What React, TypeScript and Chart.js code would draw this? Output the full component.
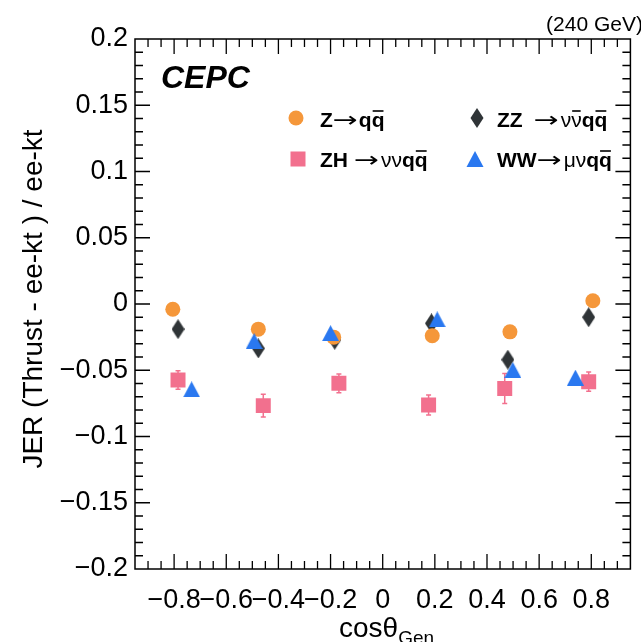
import React, { useEffect, useRef } from "react";
import { Chart, registerables } from "chart.js";
Chart.register(...registerables);

// ---- data ----
const xTickValues = [-0.8, -0.6, -0.4, -0.2, 0, 0.2, 0.4, 0.6, 0.8];
const yTickValues = [0.2, 0.15, 0.1, 0.05, 0, -0.05, -0.1, -0.15, -0.2];

const zqqX = [-0.805, -0.477, -0.188, 0.19, 0.488, 0.806];
const zqqY = [-0.004, -0.019, -0.025, -0.024, -0.021, 0.0025];

const zzX = [-0.785, -0.477, -0.184, 0.187, 0.48, 0.79];
const zzY = [-0.019, -0.0335, -0.027, -0.0146, -0.042, -0.01];

const zhX = [-0.785, -0.458, -0.168, 0.176, 0.468, 0.79];
const zhY = [-0.0574, -0.0767, -0.0599, -0.0762, -0.0637, -0.0586];
const zhErr = [0.007, 0.0085, 0.007, 0.0075, 0.0113, 0.0072];

const wwX = [-0.733, -0.493, -0.2, 0.209, 0.499, 0.739];
const wwY = [-0.0644, -0.028, -0.022, -0.0116, -0.0498, -0.0556];

const ORANGE = "#f5973a";
const DARK = "#2f3437";
const PINK = "#f2708e";
const BLUE = "#2a78f0";
const FONT = "'Liberation Sans', Arial, Helvetica, sans-serif";
const SYMFONT = "'DejaVu Sans', sans-serif";

function makeDiamond(w: number, h: number, color: string) {
  const c = document.createElement("canvas");
  c.width = w;
  c.height = h;
  const g = c.getContext("2d")!;
  g.fillStyle = color;
  g.beginPath();
  g.moveTo(w / 2, 0);
  g.lineTo(w, h / 2);
  g.lineTo(w / 2, h);
  g.lineTo(0, h / 2);
  g.closePath();
  g.fill();
  return c;
}

function makeTriangle(w: number, h: number, color: string) {
  const c = document.createElement("canvas");
  c.width = w;
  c.height = h;
  const g = c.getContext("2d")!;
  g.fillStyle = color;
  g.beginPath();
  g.moveTo(w / 2, 0);
  g.lineTo(w, h);
  g.lineTo(0, h);
  g.closePath();
  g.fill();
  return c;
}

function fmt(v: number) {
  if (Math.abs(v) < 1e-9) return "0";
  const s = String(Math.round(Math.abs(v) * 1000) / 1000);
  return (v < 0 ? "\u2212" : "") + s;
}

type Seg = { t: string; bold?: boolean; bar?: boolean; width?: number; gap?: number; sym?: boolean };

function drawSegs(ctx: CanvasRenderingContext2D, segs: Seg[], x: number, y: number, size: number) {
  let cx = x;
  for (const s of segs) {
    if (s.gap) cx += s.gap;
    ctx.font = `${s.bold ? "bold " : ""}${size}px ${s.sym ? SYMFONT : FONT}`;
    ctx.fillStyle = "#000";
    ctx.textAlign = "left";
    ctx.textBaseline = "alphabetic";
    const natural = ctx.measureText(s.t).width;
    if (s.width) {
      ctx.save();
      ctx.translate(cx, y);
      ctx.scale(s.width / natural, 1);
      ctx.fillText(s.t, 0, 0);
      ctx.restore();
    } else {
      ctx.fillText(s.t, cx, y);
    }
    const w = s.width || natural;
    if (s.bar) {
      ctx.fillRect(cx + 1, y - size * 0.8, w - 2, 1.6);
    }
    cx += w;
  }
}

const framePlugin = {
  id: "framePlugin",
  beforeDatasetsDraw(chart: any) {
    const ctx = chart.ctx as CanvasRenderingContext2D;
    const ys = chart.scales.y;
    const xs = chart.scales.x;
    ctx.save();
    ctx.strokeStyle = PINK;
    ctx.lineWidth = 1.5;
    zhX.forEach((xv, i) => {
      const px = xs.getPixelForValue(xv);
      const p1 = ys.getPixelForValue(zhY[i] + zhErr[i]);
      const p2 = ys.getPixelForValue(zhY[i] - zhErr[i]);
      ctx.beginPath();
      ctx.moveTo(px, p1);
      ctx.lineTo(px, p2);
      ctx.moveTo(px - 2.5, p1);
      ctx.lineTo(px + 2.5, p1);
      ctx.moveTo(px - 2.5, p2);
      ctx.lineTo(px + 2.5, p2);
      ctx.stroke();
    });
    ctx.restore();
  },
  afterDraw(chart: any) {
    const ctx = chart.ctx as CanvasRenderingContext2D;
    const { left, right, top, bottom } = chart.chartArea;
    const xs = chart.scales.x;
    const ys = chart.scales.y;
    ctx.save();
    ctx.strokeStyle = "#000";
    ctx.lineWidth = 1.5;
    ctx.strokeRect(left, top, right - left, bottom - top);
    ctx.lineWidth = 1.3;
    ctx.beginPath();
    for (let k = -19; k <= 19; k++) {
      const v = k * 0.05;
      const px = xs.getPixelForValue(v);
      if (px <= left + 1 || px >= right - 1) continue;
      const major = Math.abs(k) % 4 === 0;
      const len = major ? 15 : 8;
      ctx.moveTo(px, bottom);
      ctx.lineTo(px, bottom - len);
      ctx.moveTo(px, top);
      ctx.lineTo(px, top + len);
    }
    for (let k = -20; k <= 20; k++) {
      const v = k * 0.01;
      const py = ys.getPixelForValue(v);
      if (py <= top + 1 || py >= bottom - 1) continue;
      const major = Math.abs(k) % 5 === 0;
      const len = major ? 15 : 8;
      ctx.moveTo(left, py);
      ctx.lineTo(left + len, py);
      ctx.moveTo(right, py);
      ctx.lineTo(right - len, py);
    }
    ctx.stroke();

    // energy label
    ctx.fillStyle = "#000";
    ctx.font = `21px ${FONT}`;
    ctx.textAlign = "right";
    ctx.textBaseline = "alphabetic";
    ctx.fillText("(240 GeV)", 643, 31);

    // CEPC
    ctx.font = `italic bold 32px ${FONT}`;
    ctx.textAlign = "left";
    ctx.fillText("CEPC", 161, 88);

    // y title
    ctx.save();
    ctx.translate(42, 299);
    ctx.rotate(-Math.PI / 2);
    ctx.font = `28px ${FONT}`;
    ctx.textAlign = "center";
    ctx.fillText("JER (Thrust - ee-kt ) / ee-kt", 0, 0);
    ctx.restore();

    // x title
    ctx.font = `28px ${FONT}`;
    ctx.textAlign = "left";
    const t1 = "cos\u03b8";
    ctx.fillText(t1, 339, 637);
    const w1 = ctx.measureText(t1).width;
    ctx.font = `19px ${FONT}`;
    ctx.fillText("Gen", 339 + w1, 644);

    // legend markers
    ctx.fillStyle = ORANGE;
    ctx.beginPath();
    ctx.arc(296, 118, 7.5, 0, Math.PI * 2);
    ctx.fill();
    ctx.fillStyle = DARK;
    ctx.beginPath();
    ctx.moveTo(477, 108);
    ctx.lineTo(483.5, 118);
    ctx.lineTo(477, 128);
    ctx.lineTo(470.5, 118);
    ctx.closePath();
    ctx.fill();
    ctx.fillStyle = PINK;
    ctx.fillRect(290.5, 151.5, 15, 15);
    ctx.fillStyle = BLUE;
    ctx.beginPath();
    ctx.moveTo(475, 151);
    ctx.lineTo(483.5, 167);
    ctx.lineTo(466.5, 167);
    ctx.closePath();
    ctx.fill();

    // legend texts
    const S = 21;
    const AW = 25;
    const arrow = (gap: number): Seg => ({ t: "\u2192", width: AW, gap, sym: true });
    drawSegs(ctx, [{ t: "Z", bold: true }, arrow(0), { t: "q", bold: true, gap: 1 }, { t: "q", bold: true, bar: true }], 320, 127, S);
    drawSegs(ctx, [{ t: "ZZ", bold: true }, arrow(11), { t: "\u03bd", gap: 2 }, { t: "\u03bd", bar: true }, { t: "q", bold: true }, { t: "q", bold: true, bar: true }], 497, 127, S);
    drawSegs(ctx, [{ t: "ZH", bold: true }, arrow(6), { t: "\u03bd\u03bd", gap: 2 }, { t: "q", bold: true }, { t: "q", bold: true, bar: true }], 320, 167, S);
    drawSegs(ctx, [{ t: "WW", bold: true }, arrow(0), { t: "\u03bc\u03bd", gap: 2 }, { t: "q", bold: true }, { t: "q", bold: true, bar: true }], 497, 167, S);
    ctx.restore();
  },
};

export default function App() {
  const ref = useRef<HTMLCanvasElement>(null);
  useEffect(() => {
    const diamond = makeDiamond(13, 20, DARK);
    const tri = makeTriangle(17, 16, BLUE);
    const toPts = (xs: number[], ys: number[]) => xs.map((x, i) => ({ x, y: ys[i] }));
    const chart = new Chart(ref.current!, {
      type: "scatter",
      data: {
        datasets: [
          { label: "WW", data: toPts(wwX, wwY), pointStyle: tri as any, pointRadius: 9, backgroundColor: BLUE, borderWidth: 0, order: 0 },
          { label: "ZH", data: toPts(zhX, zhY), pointStyle: "rect", pointRadius: 10.6, backgroundColor: PINK, borderWidth: 0, order: 1 },
          { label: "Zqq", data: toPts(zqqX, zqqY), pointStyle: "circle", pointRadius: 7.5, backgroundColor: ORANGE, borderWidth: 0, order: 2 },
          { label: "ZZ", data: toPts(zzX, zzY), pointStyle: diamond as any, pointRadius: 10, backgroundColor: DARK, borderWidth: 0, order: 3 },
        ],
      },
      options: {
        responsive: false,
        animation: false,
        layout: { padding: { left: 0, top: 39, right: 2, bottom: 0 } },
        plugins: { legend: { display: false }, tooltip: { enabled: false } },
        scales: {
          x: {
            type: "linear",
            min: -0.95,
            max: 0.95,
            afterBuildTicks: (s: any) => {
              s.ticks = xTickValues.map((v) => ({ value: v }));
            },
            afterFit: (s: any) => {
              s.height = 73;
            },
            ticks: {
              callback: (v: any) => fmt(Number(v)),
              font: { family: FONT, size: 27 },
              color: "#000",
              padding: 15,
              maxRotation: 0,
              autoSkip: false,
            },
            grid: { display: false, drawTicks: false },
            border: { display: false },
          },
          y: {
            type: "linear",
            min: -0.2,
            max: 0.2,
            afterBuildTicks: (s: any) => {
              s.ticks = yTickValues.map((v) => ({ value: v }));
            },
            afterFit: (s: any) => {
              s.width = 135;
            },
            ticks: {
              callback: (v: any) => fmt(Number(v)),
              font: { family: FONT, size: 27 },
              color: "#000",
              padding: 7,
              autoSkip: false,
            },
            grid: { display: false, drawTicks: false },
            border: { display: false },
          },
        },
      },
      plugins: [framePlugin],
    });
    return () => chart.destroy();
  }, []);
  return (
    <div style={{ position: "fixed", left: 0, top: 0, width: 641, height: 642, background: "#fff" }}>
      <canvas ref={ref} width={641} height={642} style={{ display: "block" }} />
    </div>
  );
}
